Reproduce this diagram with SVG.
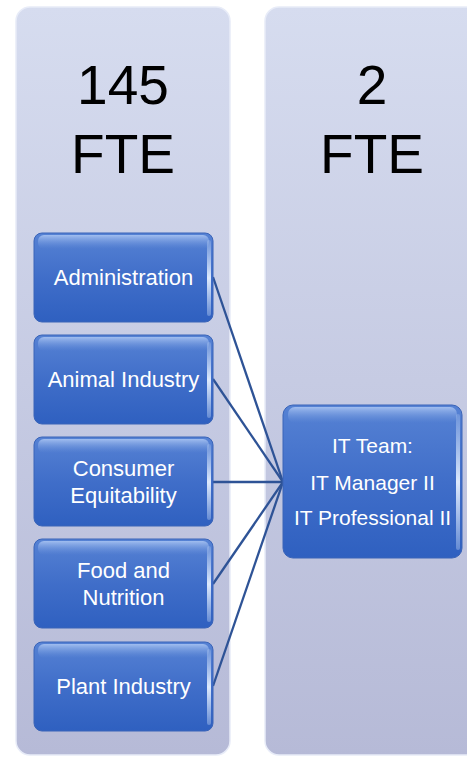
<svg xmlns="http://www.w3.org/2000/svg" width="467" height="758" viewBox="0 0 467 758">
<defs>
<linearGradient id="panelG" x1="0" y1="0" x2="0" y2="1">
<stop offset="0" stop-color="#D6DCEF"/>
<stop offset="1" stop-color="#B6BAD7"/>
</linearGradient>
<linearGradient id="boxG" x1="0" y1="0" x2="0" y2="1">
<stop offset="0" stop-color="#5682D4"/>
<stop offset="0.5" stop-color="#406EC9"/>
<stop offset="1" stop-color="#2F60C0"/>
</linearGradient>
<linearGradient id="hiG" x1="0" y1="0" x2="0" y2="1">
<stop offset="0" stop-color="#A9C4F2" stop-opacity="0.9"/>
<stop offset="1" stop-color="#6E95DC" stop-opacity="0"/>
</linearGradient>
<linearGradient id="edgeG" x1="0" y1="0" x2="0" y2="1">
<stop offset="0" stop-color="#DDEBFF" stop-opacity="0.2"/>
<stop offset="0.5" stop-color="#E6F0FF" stop-opacity="0.95"/>
<stop offset="1" stop-color="#DDEBFF" stop-opacity="0.3"/>
</linearGradient>
</defs>
<style>
.panel{fill:url(#panelG);stroke:#E8ECF8;stroke-width:1.5}
.box{fill:url(#boxG);stroke:#3A64B8;stroke-width:1}
.hi{fill:url(#hiG)}
.edge{fill:url(#edgeG)}
.big{font-family:"Liberation Sans",Arial,sans-serif;font-size:55px;fill:#000;text-anchor:middle}
.lbl{font-family:"Liberation Sans",Arial,sans-serif;font-size:22px;fill:#fff;text-anchor:middle}
.it{font-size:21px}
.conn{stroke:#2E5396;stroke-width:2.3;fill:none}
</style>
<rect width="467" height="758" fill="#fff"/>
<g id="panel-left">
<rect class="panel" x="16" y="7" width="214" height="748" rx="14"/>
<text class="big" x="123" y="104">145</text>
<text class="big" x="123" y="173">FTE</text>
</g>
<g id="panel-right">
<rect class="panel" x="265" y="7" width="230" height="748" rx="14"/>
<text class="big" x="372" y="104">2</text>
<text class="big" x="372" y="173">FTE</text>
</g>
<g id="connectors">
<line class="conn" x1="213" y1="277" x2="283" y2="482"/>
<line class="conn" x1="213" y1="379" x2="283" y2="482"/>
<line class="conn" x1="213" y1="482" x2="283" y2="482"/>
<line class="conn" x1="213" y1="584" x2="283" y2="482"/>
<line class="conn" x1="213" y1="686" x2="283" y2="482"/>
</g>
<g id="node-administration">
<rect class="box" x="34" y="233" width="179" height="89" rx="8"/>
<rect class="hi" x="38" y="235" width="171" height="14" rx="6"/>
<rect class="edge" x="207" y="240" width="4" height="76" rx="2"/>
<text class="lbl" x="123.5" y="285">Administration</text>
</g>
<g id="node-animal-industry">
<rect class="box" x="34" y="335" width="179" height="89" rx="8"/>
<rect class="hi" x="38" y="337" width="171" height="14" rx="6"/>
<rect class="edge" x="207" y="342" width="4" height="76" rx="2"/>
<text class="lbl" x="123.5" y="387">Animal Industry</text>
</g>
<g id="node-consumer-equitability">
<rect class="box" x="34" y="437" width="179" height="89" rx="8"/>
<rect class="hi" x="38" y="439" width="171" height="14" rx="6"/>
<rect class="edge" x="207" y="444" width="4" height="76" rx="2"/>
<text class="lbl" x="123.5" y="476">Consumer</text>
<text class="lbl" x="123.5" y="503">Equitability</text>
</g>
<g id="node-food-nutrition">
<rect class="box" x="34" y="539" width="179" height="89" rx="8"/>
<rect class="hi" x="38" y="541" width="171" height="14" rx="6"/>
<rect class="edge" x="207" y="546" width="4" height="76" rx="2"/>
<text class="lbl" x="123.5" y="578">Food and</text>
<text class="lbl" x="123.5" y="605">Nutrition</text>
</g>
<g id="node-plant-industry">
<rect class="box" x="34" y="642" width="179" height="89" rx="8"/>
<rect class="hi" x="38" y="644" width="171" height="14" rx="6"/>
<rect class="edge" x="207" y="649" width="4" height="76" rx="2"/>
<text class="lbl" x="123.5" y="694">Plant Industry</text>
</g>
<g id="node-it-team">
<rect class="box" x="283" y="405" width="179" height="153" rx="10"/>
<rect class="hi" x="288" y="407" width="169" height="16" rx="7"/>
<rect class="edge" x="456" y="414" width="4" height="136" rx="2"/>
<text class="lbl it" x="372.5" y="453">IT Team:</text>
<text class="lbl it" x="372.5" y="490">IT Manager II</text>
<text class="lbl it" x="372.5" y="525">IT Professional II</text>
</g>
</svg>
